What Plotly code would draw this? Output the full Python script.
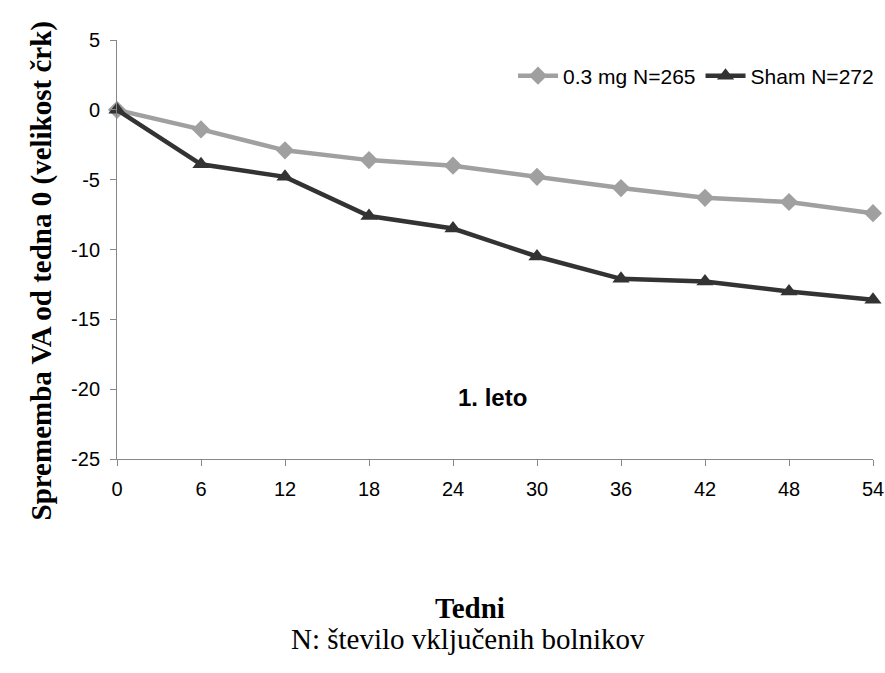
import plotly.graph_objects as go

weeks = [0, 6, 12, 18, 24, 30, 36, 42, 48, 54]
dose_03mg = [0, -1.4, -2.9, -3.6, -4.0, -4.8, -5.6, -6.3, -6.6, -7.4]
sham = [0, -3.9, -4.8, -7.6, -8.5, -10.5, -12.1, -12.3, -13.0, -13.6]
series_names = ["0.3 mg N=265", "Sham N=272"]
y_ticks = [5, 0, -5, -10, -15, -20, -25]
y_ticktext = [str(v) for v in y_ticks]

W, H = 885, 673
L, R, T, B = 117, 12, 40, 214
pw, ph = W - L - R, H - T - B


def px(x):
    return (x - L) / pw


def py(y):
    return 1 - (y - T) / ph


SERIF = "Liberation Serif, Times New Roman, serif"
SANS = "Liberation Sans, Arial, sans-serif"

fig = go.Figure()
fig.add_trace(go.Scatter(
    x=weeks, y=dose_03mg, name=series_names[0], mode="lines+markers",
    line=dict(color="#A0A0A0", width=4.5),
    marker=dict(symbol="diamond", size=14, color="#A0A0A0"),
    cliponaxis=False,
))
fig.add_trace(go.Scatter(
    x=weeks, y=sham, name=series_names[1], mode="lines+markers",
    line=dict(color="#333333", width=4.5),
    marker=dict(symbol="triangle-up", size=15, color="#333333"),
    cliponaxis=False,
))

fig.update_layout(
    width=W, height=H,
    margin=dict(l=L, r=R, t=T, b=B, autoexpand=False),
    plot_bgcolor="white", paper_bgcolor="white",
    font=dict(family=SANS, size=20, color="black"),
    showlegend=True,
    legend=dict(orientation="h", x=px(879), xanchor="right", y=py(76), yanchor="middle",
                font=dict(size=21, family=SANS), bgcolor="rgba(0,0,0,0)",
                itemwidth=40, tracegroupgap=0),
    xaxis=dict(range=[0, 54], tickvals=weeks, showgrid=False, zeroline=False,
               showline=True, linecolor="#888888", linewidth=1,
               ticks="outside", ticklen=6, tickcolor="#888888",
               ticklabelstandoff=6,
               tickfont=dict(size=20, family=SANS)),
    yaxis=dict(range=[-25, 5], tickvals=y_ticks, ticktext=y_ticktext,
               showgrid=False, zeroline=False,
               showline=True, linecolor="#888888", linewidth=1,
               ticks="outside", ticklen=6, tickcolor="#888888",
               ticklabelstandoff=6,
               tickfont=dict(size=20, family=SANS)),
    annotations=[
        dict(text="<b>1. leto</b>", x=26.8, y=-20.6, xref="x", yref="y",
             showarrow=False, font=dict(size=24, family=SANS)),
        dict(text="<b>Sprememba VA od tedna 0 (velikost črk)</b>",
             x=px(22), y=py(271), xref="paper", yref="paper", showarrow=False,
             textangle=-90, font=dict(size=29, family=SERIF)),
        dict(text="<b>Tedni</b>", x=px(470), y=py(626), xref="paper", yref="paper",
             showarrow=False, font=dict(size=29, family=SERIF)),
        dict(text="N: število vključenih bolnikov", x=px(468), y=py(657),
             xref="paper", yref="paper", showarrow=False,
             font=dict(size=29, family=SERIF)),
    ],
)

fig.write_html("out.html", config={"displayModeBar": False},
               post_script="document.body.style.margin='0px';")
